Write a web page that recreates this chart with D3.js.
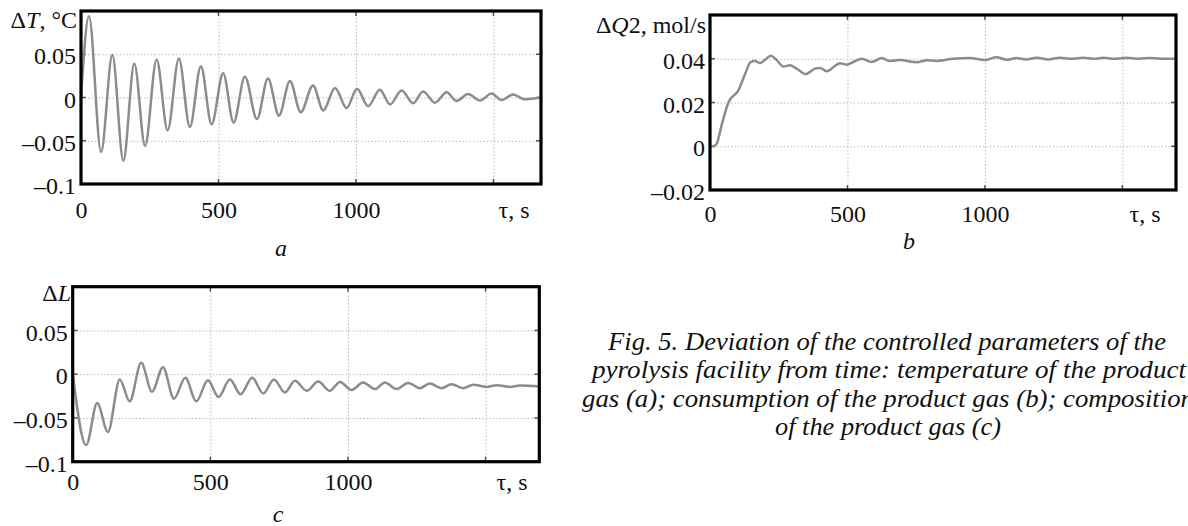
<!DOCTYPE html>
<html lang="en">
<head>
<meta charset="UTF-8">
<title>Fig. 5 - Deviation of controlled parameters</title>
<script src="https://d3js.org/d3.v7.min.js"></script>
<style>
    body { margin: 0; background: #fff; }
    svg { display: block; }
    .grid line { stroke: #b8b8b8; stroke-width: 1; stroke-dasharray: 1.5 2; }
    .grid path { display: none; }
    .frame { fill: none; stroke: #000; stroke-width: 3.2; }
    .curve { fill: none; stroke: #8c8c8c; stroke-width: 2.5; stroke-linejoin: round; }
</style>
</head>
<body>
<svg id="chart" width="1188" height="526"></svg>
<script>
// ---- data (time in s, deviation) ----

// (a) temperature of the product gas, dT in degC
const tempTime = [0, 29, 73, 114, 154, 194, 233, 275, 315, 356, 396, 436, 475, 517, 555, 596, 640, 680, 720, 760,
    799, 844, 881, 924, 966, 1004, 1044, 1087, 1124, 1166, 1208, 1244, 1287, 1330, 1366, 1408, 1451, 1493, 1530, 1571, 1614, 1673];
const tempDev = [0, 0.094, -0.063, 0.049, -0.073, 0.039, -0.056, 0.044, -0.038, 0.045, -0.034, 0.036, -0.031, 0.028, -0.029, 0.024, -0.025, 0.022, -0.021, 0.019,
    -0.017, 0.014, -0.015, 0.011, -0.012, 0.010, -0.010, 0.009, -0.008, 0.008, -0.0066, 0.007, -0.006, 0.006, -0.004, 0.004, -0.0035, 0.0045, -0.003, 0.0035, -0.002, 0];

// (b) consumption of the product gas, dQ2 in mol/s
const flowTime = [0, 12, 24, 43, 67, 103, 127, 148, 164, 182, 200, 221, 242, 267, 291, 315, 349, 382, 400, 424, 461, 473, 497, 521, 552, 588, 624, 655, 691,
    752, 790, 824, 885, 945, 1000, 1042, 1080, 1115, 1150, 1188, 1230, 1273, 1315, 1357, 1400, 1430, 1470, 1515, 1560, 1600, 1640, 1695];
const flowDev = [0, 0, 0.001, 0.010, 0.020, 0.0255, 0.0328, 0.0385, 0.039, 0.038, 0.0395, 0.0414, 0.0395, 0.0365, 0.037, 0.0355, 0.033, 0.0355, 0.0358, 0.0343, 0.0373, 0.038, 0.0373, 0.0385, 0.040, 0.0385, 0.0403, 0.039, 0.0394,
    0.0384, 0.0393, 0.039, 0.040, 0.0403, 0.0394, 0.0407, 0.0395, 0.0403, 0.0397, 0.0405, 0.0397, 0.0405, 0.040, 0.0405, 0.040, 0.0405, 0.040, 0.0405, 0.040, 0.0404, 0.040, 0.040];

// (c) composition of the product gas, dL
const compTime = [0, 49, 89, 128, 171, 207, 249, 288, 328, 368, 409, 449, 491, 530, 571, 610, 652, 692, 731, 771,
    807, 850, 892, 934, 971, 1013, 1055, 1098, 1134, 1176, 1219, 1261, 1297, 1340, 1376, 1418, 1455, 1503, 1540, 1588, 1624, 1695];
const compDev = [0, -0.081, -0.033, -0.066, -0.006, -0.031, 0.013, -0.020, 0.008, -0.028, -0.004, -0.031, -0.007, -0.026, -0.006, -0.023, -0.004, -0.022, -0.006, -0.021,
    -0.0076, -0.019, -0.0084, -0.019, -0.0088, -0.018, -0.0095, -0.017, -0.0095, -0.017, -0.010, -0.016, -0.0107, -0.016, -0.0114, -0.016, -0.012, -0.0145, -0.0126, -0.0145, -0.013, -0.014];

// tick values
const timeLabelTicks = [0, 500, 1000];
const timeGridTicks = [500, 1000, 1500];
const tempTicks = [-0.1, -0.05, 0, 0.05];
const flowTicks = [-0.02, 0, 0.02, 0.04];
const compTicks = [-0.1, -0.05, 0, 0.05];

const captionLines = [
    "Fig. 5. Deviation of the controlled parameters of the",
    "pyrolysis facility from time: temperature of the product",
    "gas (a); consumption of the product gas (b); composition",
    "of the product gas (c)"
];

const FONT = "'Liberation Serif', 'Times New Roman', serif";
const svg = d3.select("#chart");
const fmt = v => v < 0 ? "\u2013" + String(Math.abs(v)) : String(v);

// give a text selection the figure's serif look
function serif(sel, size) {
    return sel.style("font-family", FONT).style("font-size", size + "px").style("fill", "#111");
}

// panel layout (pixel boxes of the plot frames)
const panels = [
    { time: tempTime, dev: tempDev, yTicks: tempTicks, yDomain: [-0.1, 0.1], xMax: 1673,
      box: { l: 81, r: 541, t: 11, b: 184 }, xLabelY: 218,
      title: { x: 77, y: 28, pre: "\u0394", it: "T", post: ", \u00B0C" },
      tau: { x: 514, y: 218 }, letter: { txt: "a", x: 281, y: 256 } },
    { time: flowTime, dev: flowDev, yTicks: flowTicks, yDomain: [-0.02, 0.06], xMax: 1695,
      box: { l: 710, r: 1176, t: 15, b: 190 }, xLabelY: 222,
      title: { x: 706, y: 33, pre: "\u0394", it: "Q", post: "2, mol/s" },
      tau: { x: 1145, y: 222 }, letter: { txt: "b", x: 909, y: 249 } },
    { time: compTime, dev: compDev, yTicks: compTicks, yDomain: [-0.1, 0.1], xMax: 1695,
      box: { l: 72.7, r: 539.3, t: 286.7, b: 461.7 }, xLabelY: 490,
      title: { x: 71, y: 301, pre: "\u0394", it: "L", post: "" },
      tau: { x: 512, y: 490 }, letter: { txt: "c", x: 278, y: 522 } }
];

panels.forEach(p => {
    const { l, r, t, b } = p.box;
    const x = d3.scaleLinear().domain([0, p.xMax]).range([l, r]);
    const y = d3.scaleLinear().domain(p.yDomain).range([b, t]);
    const g = svg.append("g");

    // dotted grid
    g.append("g").attr("class", "grid")
        .attr("transform", `translate(0,${b})`)
        .call(d3.axisBottom(x).tickValues(timeGridTicks).tickSize(-(b - t)).tickFormat(""));
    g.append("g").attr("class", "grid")
        .attr("transform", `translate(${l},0)`)
        .call(d3.axisLeft(y).tickValues(p.yTicks.filter(v => v > p.yDomain[0])).tickSize(-(r - l)).tickFormat(""));

    // small dark ticks on the inside of the frame
    const tickLen = 5;
    const yIn = p.yTicks.filter(v => v > p.yDomain[0]);
    g.selectAll(".ytk").data(yIn).enter().append("line")
        .attr("x1", r - tickLen).attr("x2", r).attr("y1", d => y(d)).attr("y2", d => y(d))
        .attr("stroke", "#555").attr("stroke-width", 1.5);
    g.selectAll(".ytl").data(yIn).enter().append("line")
        .attr("x1", l).attr("x2", l + tickLen).attr("y1", d => y(d)).attr("y2", d => y(d))
        .attr("stroke", "#555").attr("stroke-width", 1.5);
    g.selectAll(".xtb").data(timeGridTicks).enter().append("line")
        .attr("x1", d => x(d)).attr("x2", d => x(d)).attr("y1", b - tickLen).attr("y2", b)
        .attr("stroke", "#555").attr("stroke-width", 1.5);
    g.selectAll(".xtt").data(timeGridTicks).enter().append("line")
        .attr("x1", d => x(d)).attr("x2", d => x(d)).attr("y1", t).attr("y2", t + tickLen)
        .attr("stroke", "#555").attr("stroke-width", 1.5);

    // curve
    const pts = p.time.map((tv, i) => [tv, p.dev[i]]);
    g.append("path").datum(pts).attr("class", "curve")
        .attr("d", d3.line().x(d => x(d[0])).y(d => y(d[1])).curve(d3.curveMonotoneX));

    // frame
    g.append("rect").attr("class", "frame")
        .attr("x", l).attr("y", t).attr("width", r - l).attr("height", b - t);

    // y tick labels
    const ya = g.append("g").attr("transform", `translate(${l - 5},0)`)
        .call(d3.axisLeft(y).tickValues(p.yTicks).tickSize(0).tickPadding(0).tickFormat(fmt));
    ya.select(".domain").remove();
    serif(ya.selectAll("text"), 24).attr("dy", "0.4em");

    // x tick labels
    const xa = g.append("g").attr("transform", `translate(0,${b})`)
        .call(d3.axisBottom(x).tickValues(timeLabelTicks).tickSize(0).tickFormat(d3.format("d")));
    xa.select(".domain").remove();
    serif(xa.selectAll("text"), 24).attr("y", p.xLabelY - b).attr("dy", null);

    // axis title
    const tt = serif(g.append("text"), 24)
        .attr("x", p.title.x).attr("y", p.title.y).attr("text-anchor", "end");
    tt.append("tspan").text(p.title.pre);
    tt.append("tspan").style("font-style", "italic").text(p.title.it);
    if (p.title.post) tt.append("tspan").text(p.title.post);

    serif(g.append("text"), 24)
        .attr("x", p.tau.x).attr("y", p.tau.y).attr("text-anchor", "middle")
        .text("\u03C4, s");

    serif(g.append("text"), 24)
        .attr("x", p.letter.x).attr("y", p.letter.y).attr("text-anchor", "middle")
        .style("font-style", "italic").text(p.letter.txt);
});

// caption
const capX = [608, 592, 582, 775];
const capW = [558, 594, 612, 226];
const capY = [350, 378, 406.5, 434.5];
serif(svg.append("g").selectAll("text").data(captionLines).enter().append("text"), 25)
    .style("font-style", "italic")
    .attr("x", (d, i) => capX[i]).attr("y", (d, i) => capY[i])
    .attr("textLength", (d, i) => capW[i]).attr("lengthAdjust", "spacingAndGlyphs")
    .text(d => d);
</script>
</body>
</html>
